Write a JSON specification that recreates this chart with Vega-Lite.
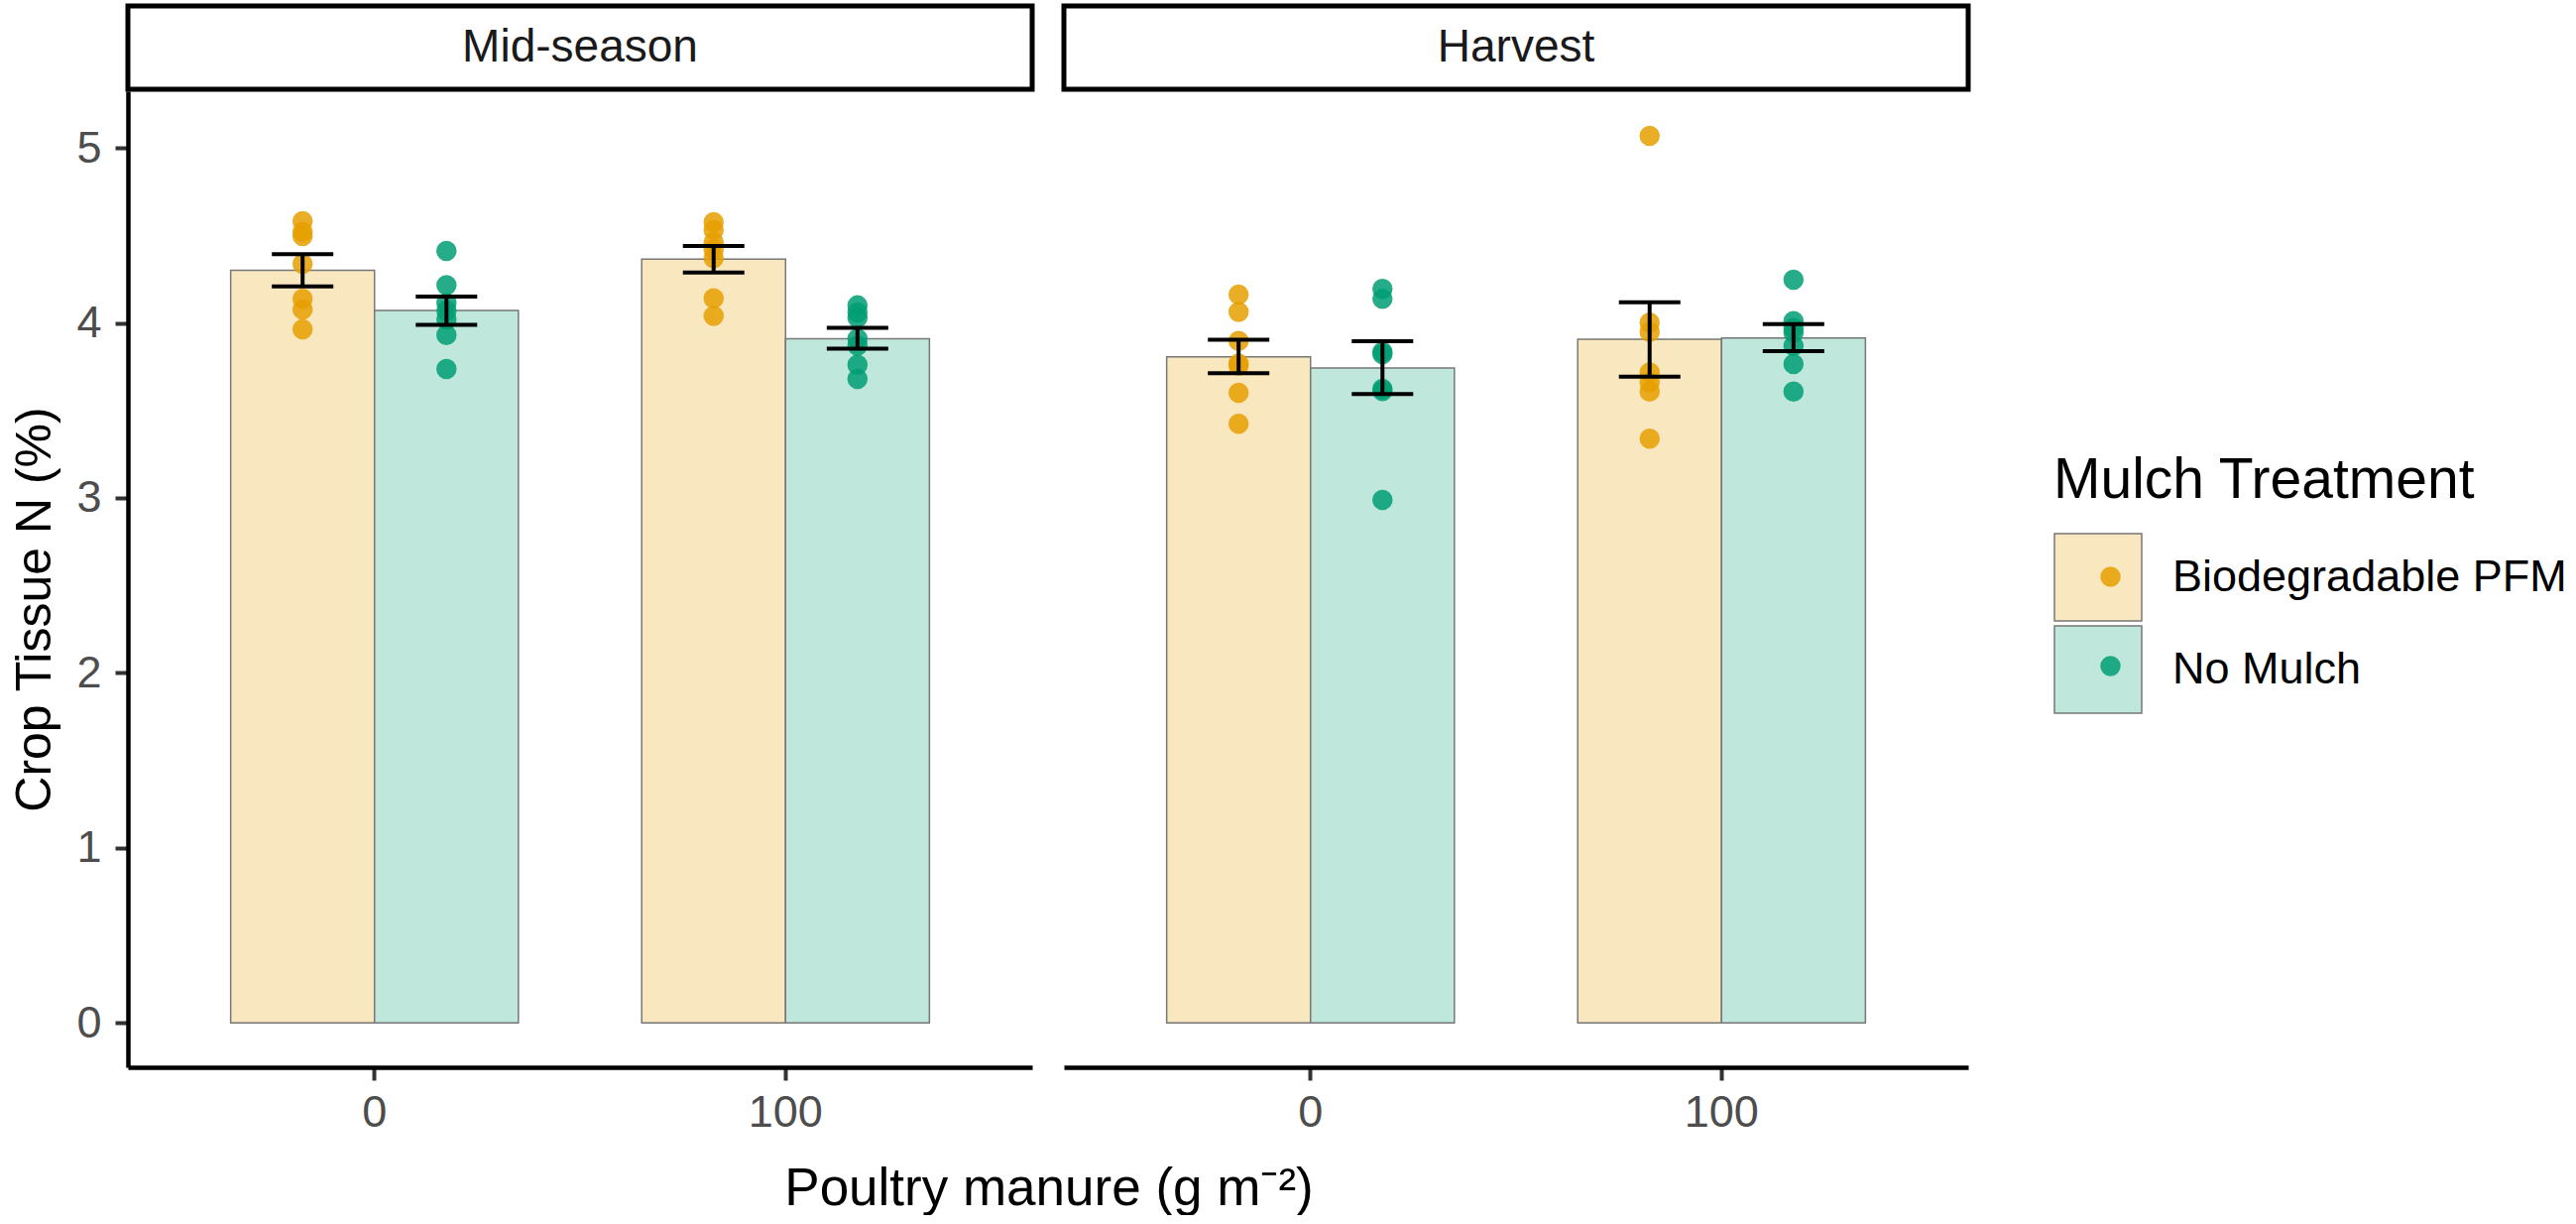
{
  "$schema": "https://vega.github.io/schema/vega-lite/v6.json",
  "background": "white",
  "padding": {"left": 10, "top": 3, "right": 0, "bottom": 0},
  "autosize": {"type": "pad"},
  "config": {
    "font": "Liberation Sans",
    "view": {"stroke": null},
    "axis": {
      "domainColor": "black", "domainWidth": 4.5,
      "tickColor": "#333333", "tickWidth": 4, "tickSize": 13,
      "labelColor": "#4D4D4D", "labelFontSize": 45, "labelFont": "Liberation Sans",
      "titleFont": "Liberation Sans", "titleFontSize": 50, "titleColor": "black", "titleFontWeight": "normal",
      "grid": false
    },
    "axisX": {"labelPadding": 10, "titlePadding": 28, "labelAngle": 0, "titleFontSize": 53},
    "axisY": {"labelPadding": 14, "titlePadding": 16},
    "legend": {"labelLimit": 0, "titleLimit": 0}
  },
  "datasets": {
    "strips": [{"period": "Mid-season"}, {"period": "Harvest"}],
    "summary": [
      {"period": "Mid-season", "manure": 0, "treatment": "Biodegradable PFM", "mean": 4.300, "lo": 4.209, "hi": 4.392},
      {"period": "Mid-season", "manure": 0, "treatment": "No Mulch", "mean": 4.071, "lo": 3.989, "hi": 4.150},
      {"period": "Mid-season", "manure": 100, "treatment": "Biodegradable PFM", "mean": 4.364, "lo": 4.288, "hi": 4.439},
      {"period": "Mid-season", "manure": 100, "treatment": "No Mulch", "mean": 3.910, "lo": 3.853, "hi": 3.972},
      {"period": "Harvest", "manure": 0, "treatment": "Biodegradable PFM", "mean": 3.806, "lo": 3.712, "hi": 3.904},
      {"period": "Harvest", "manure": 0, "treatment": "No Mulch", "mean": 3.742, "lo": 3.594, "hi": 3.895},
      {"period": "Harvest", "manure": 100, "treatment": "Biodegradable PFM", "mean": 3.906, "lo": 3.693, "hi": 4.118},
      {"period": "Harvest", "manure": 100, "treatment": "No Mulch", "mean": 3.914, "lo": 3.838, "hi": 3.993}
    ],
    "obs": [
      {"period": "Mid-season", "manure": 0, "mulch": "Biodegradable PFM", "n_pct": 4.581},
      {"period": "Mid-season", "manure": 0, "mulch": "Biodegradable PFM", "n_pct": 4.520},
      {"period": "Mid-season", "manure": 0, "mulch": "Biodegradable PFM", "n_pct": 4.496},
      {"period": "Mid-season", "manure": 0, "mulch": "Biodegradable PFM", "n_pct": 4.337},
      {"period": "Mid-season", "manure": 0, "mulch": "Biodegradable PFM", "n_pct": 4.137},
      {"period": "Mid-season", "manure": 0, "mulch": "Biodegradable PFM", "n_pct": 4.077},
      {"period": "Mid-season", "manure": 0, "mulch": "Biodegradable PFM", "n_pct": 3.963},
      {"period": "Mid-season", "manure": 0, "mulch": "No Mulch", "n_pct": 4.411},
      {"period": "Mid-season", "manure": 0, "mulch": "No Mulch", "n_pct": 4.216},
      {"period": "Mid-season", "manure": 0, "mulch": "No Mulch", "n_pct": 4.114},
      {"period": "Mid-season", "manure": 0, "mulch": "No Mulch", "n_pct": 4.070},
      {"period": "Mid-season", "manure": 0, "mulch": "No Mulch", "n_pct": 4.020},
      {"period": "Mid-season", "manure": 0, "mulch": "No Mulch", "n_pct": 3.931},
      {"period": "Mid-season", "manure": 0, "mulch": "No Mulch", "n_pct": 3.736},
      {"period": "Mid-season", "manure": 100, "mulch": "Biodegradable PFM", "n_pct": 4.575},
      {"period": "Mid-season", "manure": 100, "mulch": "Biodegradable PFM", "n_pct": 4.530},
      {"period": "Mid-season", "manure": 100, "mulch": "Biodegradable PFM", "n_pct": 4.460},
      {"period": "Mid-season", "manure": 100, "mulch": "Biodegradable PFM", "n_pct": 4.420},
      {"period": "Mid-season", "manure": 100, "mulch": "Biodegradable PFM", "n_pct": 4.370},
      {"period": "Mid-season", "manure": 100, "mulch": "Biodegradable PFM", "n_pct": 4.140},
      {"period": "Mid-season", "manure": 100, "mulch": "Biodegradable PFM", "n_pct": 4.040},
      {"period": "Mid-season", "manure": 100, "mulch": "No Mulch", "n_pct": 4.100},
      {"period": "Mid-season", "manure": 100, "mulch": "No Mulch", "n_pct": 4.060},
      {"period": "Mid-season", "manure": 100, "mulch": "No Mulch", "n_pct": 4.030},
      {"period": "Mid-season", "manure": 100, "mulch": "No Mulch", "n_pct": 3.910},
      {"period": "Mid-season", "manure": 100, "mulch": "No Mulch", "n_pct": 3.870},
      {"period": "Mid-season", "manure": 100, "mulch": "No Mulch", "n_pct": 3.760},
      {"period": "Mid-season", "manure": 100, "mulch": "No Mulch", "n_pct": 3.680},
      {"period": "Harvest", "manure": 0, "mulch": "Biodegradable PFM", "n_pct": 4.162},
      {"period": "Harvest", "manure": 0, "mulch": "Biodegradable PFM", "n_pct": 4.063},
      {"period": "Harvest", "manure": 0, "mulch": "Biodegradable PFM", "n_pct": 3.897},
      {"period": "Harvest", "manure": 0, "mulch": "Biodegradable PFM", "n_pct": 3.768},
      {"period": "Harvest", "manure": 0, "mulch": "Biodegradable PFM", "n_pct": 3.755},
      {"period": "Harvest", "manure": 0, "mulch": "Biodegradable PFM", "n_pct": 3.600},
      {"period": "Harvest", "manure": 0, "mulch": "Biodegradable PFM", "n_pct": 3.424},
      {"period": "Harvest", "manure": 0, "mulch": "No Mulch", "n_pct": 4.194},
      {"period": "Harvest", "manure": 0, "mulch": "No Mulch", "n_pct": 4.137},
      {"period": "Harvest", "manure": 0, "mulch": "No Mulch", "n_pct": 3.834},
      {"period": "Harvest", "manure": 0, "mulch": "No Mulch", "n_pct": 3.821},
      {"period": "Harvest", "manure": 0, "mulch": "No Mulch", "n_pct": 3.623},
      {"period": "Harvest", "manure": 0, "mulch": "No Mulch", "n_pct": 3.610},
      {"period": "Harvest", "manure": 0, "mulch": "No Mulch", "n_pct": 2.989},
      {"period": "Harvest", "manure": 100, "mulch": "Biodegradable PFM", "n_pct": 5.069},
      {"period": "Harvest", "manure": 100, "mulch": "Biodegradable PFM", "n_pct": 4.001},
      {"period": "Harvest", "manure": 100, "mulch": "Biodegradable PFM", "n_pct": 3.948},
      {"period": "Harvest", "manure": 100, "mulch": "Biodegradable PFM", "n_pct": 3.717},
      {"period": "Harvest", "manure": 100, "mulch": "Biodegradable PFM", "n_pct": 3.660},
      {"period": "Harvest", "manure": 100, "mulch": "Biodegradable PFM", "n_pct": 3.608},
      {"period": "Harvest", "manure": 100, "mulch": "Biodegradable PFM", "n_pct": 3.339},
      {"period": "Harvest", "manure": 100, "mulch": "No Mulch", "n_pct": 4.247},
      {"period": "Harvest", "manure": 100, "mulch": "No Mulch", "n_pct": 4.010},
      {"period": "Harvest", "manure": 100, "mulch": "No Mulch", "n_pct": 3.970},
      {"period": "Harvest", "manure": 100, "mulch": "No Mulch", "n_pct": 3.944},
      {"period": "Harvest", "manure": 100, "mulch": "No Mulch", "n_pct": 3.868},
      {"period": "Harvest", "manure": 100, "mulch": "No Mulch", "n_pct": 3.765},
      {"period": "Harvest", "manure": 100, "mulch": "No Mulch", "n_pct": 3.608}
    ]
  },
  "columns": 2,
  "spacing": {"row": 2, "column": 32},
  "bounds": "flush",
  "resolve": {"scale": {"fill": "shared", "color": "shared"}, "legend": {"fill": "shared", "color": "shared"}},
  "concat": [
    {
      "data": {"name": "strips"},
      "transform": [{"filter": "datum.period === 'Mid-season'"}],
      "width": 912, "height": 84,
      "view": {"stroke": "black", "strokeWidth": 5, "fill": "white"},
      "mark": {"type": "text", "fontSize": 46, "font": "Liberation Sans", "color": "#1A1A1A"},
      "encoding": {"text": {"field": "period", "type": "nominal"}}
    },
    {
      "data": {"name": "strips"},
      "transform": [{"filter": "datum.period === 'Harvest'"}],
      "width": 912, "height": 84,
      "view": {"stroke": "black", "strokeWidth": 5, "fill": "white"},
      "mark": {"type": "text", "fontSize": 46, "font": "Liberation Sans", "color": "#1A1A1A"},
      "encoding": {"text": {"field": "period", "type": "nominal"}}
    },
    {
      "width": 912, "height": 984,
      "layer": [
        {
          "data": {"name": "summary"},
          "transform": [{"filter": "datum.period === 'Mid-season'"}],
          "mark": {"type": "bar", "stroke": "#777777", "strokeWidth": 1.5},
          "encoding": {
            "x": {"field": "manure", "type": "ordinal", "title": "Poultry manure (g m⁻²)", "scale": {"domain": [0, 100], "paddingInner": 0.3, "paddingOuter": 0.25}, "axis": {"titleX": 928.5}},
            "xOffset": {"field": "treatment", "type": "nominal", "scale": {"domain": ["Biodegradable PFM", "No Mulch"], "paddingInner": 0, "paddingOuter": 0}},
            "y": {"field": "mean", "type": "quantitative", "title": "Crop Tissue N (%)", "scale": {"domain": [-0.2535, 5.3235], "nice": false, "zero": false}, "axis": {"values": [0, 1, 2, 3, 4, 5], "format": "d", "titleY": 522}},
            "y2": {"datum": 0},
            "fill": {"field": "treatment", "type": "nominal", "scale": {"domain": ["Biodegradable PFM", "No Mulch"], "range": ["#F9E7BF", "#BFE7DC"]},
              "legend": {"orient": "none", "legendX": 1942, "legendY": 451, "padding": 0, "title": "Mulch Treatment", "titleFontSize": 57, "titleColor": "black", "titleFontWeight": "normal", "titleFont": "Liberation Sans", "titlePadding": 23, "titleLimit": 0, "symbolType": "square", "symbolSize": 7744, "symbolStrokeColor": "#777777", "symbolStrokeWidth": 1.5, "symbolOpacity": 1, "rowPadding": -1, "labelFontSize": 45, "labelColor": "black", "labelFont": "Liberation Sans", "labelOffset": 30, "labelLimit": 0}}
          }
        },
        {
          "data": {"name": "obs"},
          "transform": [{"filter": "datum.period === 'Mid-season'"}],
          "mark": {"type": "circle", "size": 420, "opacity": 0.85},
          "encoding": {
            "x": {"field": "manure", "type": "ordinal", "title": "Poultry manure (g m⁻²)"},
            "xOffset": {"field": "mulch", "type": "nominal"},
            "y": {"field": "n_pct", "type": "quantitative", "title": "Crop Tissue N (%)"},
            "color": {"field": "mulch", "type": "nominal", "scale": {"range": ["#E69F00", "#009E73"]},
              "legend": {"orient": "none", "legendX": 1977, "legendY": 553, "padding": 0, "title": null, "symbolType": "circle", "symbolSize": 420, "symbolOpacity": 0.85, "rowPadding": 44, "labelFontSize": 45, "labelExpr": "''", "labelOpacity": 0}}
          }
        },
        {
          "data": {"name": "summary"},
          "transform": [{"filter": "datum.period === 'Mid-season'"}],
          "mark": {"type": "rule", "color": "black", "strokeWidth": 4},
          "encoding": {
            "x": {"field": "manure", "type": "ordinal", "title": "Poultry manure (g m⁻²)"},
            "xOffset": {"field": "treatment", "type": "nominal"},
            "y": {"field": "lo", "type": "quantitative", "title": "Crop Tissue N (%)"},
            "y2": {"field": "hi"}
          }
        },
        {
          "data": {"name": "summary"},
          "transform": [{"filter": "datum.period === 'Mid-season'"}],
          "mark": {"type": "tick", "color": "black", "thickness": 4, "size": 62, "opacity": 1},
          "encoding": {
            "x": {"field": "manure", "type": "ordinal", "title": "Poultry manure (g m⁻²)"},
            "xOffset": {"field": "treatment", "type": "nominal"},
            "y": {"field": "lo", "type": "quantitative", "title": "Crop Tissue N (%)"}
          }
        },
        {
          "data": {"name": "summary"},
          "transform": [{"filter": "datum.period === 'Mid-season'"}],
          "mark": {"type": "tick", "color": "black", "thickness": 4, "size": 62, "opacity": 1},
          "encoding": {
            "x": {"field": "manure", "type": "ordinal", "title": "Poultry manure (g m⁻²)"},
            "xOffset": {"field": "treatment", "type": "nominal"},
            "y": {"field": "hi", "type": "quantitative", "title": "Crop Tissue N (%)"}
          }
        }
      ]
    },
    {
      "width": 912, "height": 984,
      "layer": [
        {
          "data": {"name": "summary"},
          "transform": [{"filter": "datum.period === 'Harvest'"}],
          "mark": {"type": "bar", "stroke": "#777777", "strokeWidth": 1.5},
          "encoding": {
            "x": {"field": "manure", "type": "ordinal", "title": null, "scale": {"domain": [0, 100], "paddingInner": 0.3, "paddingOuter": 0.25}},
            "xOffset": {"field": "treatment", "type": "nominal", "scale": {"domain": ["Biodegradable PFM", "No Mulch"], "paddingInner": 0, "paddingOuter": 0}},
            "y": {"field": "mean", "type": "quantitative", "scale": {"domain": [-0.2535, 5.3235], "nice": false, "zero": false}, "axis": null},
            "y2": {"datum": 0},
            "fill": {"field": "treatment", "type": "nominal", "scale": {"domain": ["Biodegradable PFM", "No Mulch"], "range": ["#F9E7BF", "#BFE7DC"]}}
          }
        },
        {
          "data": {"name": "obs"},
          "transform": [{"filter": "datum.period === 'Harvest'"}],
          "mark": {"type": "circle", "size": 420, "opacity": 0.85},
          "encoding": {
            "x": {"field": "manure", "type": "ordinal", "title": null},
            "xOffset": {"field": "mulch", "type": "nominal"},
            "y": {"field": "n_pct", "type": "quantitative", "axis": null},
            "color": {"field": "mulch", "type": "nominal"}
          }
        },
        {
          "data": {"name": "summary"},
          "transform": [{"filter": "datum.period === 'Harvest'"}],
          "mark": {"type": "rule", "color": "black", "strokeWidth": 4},
          "encoding": {
            "x": {"field": "manure", "type": "ordinal", "title": null},
            "xOffset": {"field": "treatment", "type": "nominal"},
            "y": {"field": "lo", "type": "quantitative", "axis": null},
            "y2": {"field": "hi"}
          }
        },
        {
          "data": {"name": "summary"},
          "transform": [{"filter": "datum.period === 'Harvest'"}],
          "mark": {"type": "tick", "color": "black", "thickness": 4, "size": 62, "opacity": 1},
          "encoding": {
            "x": {"field": "manure", "type": "ordinal", "title": null},
            "xOffset": {"field": "treatment", "type": "nominal"},
            "y": {"field": "lo", "type": "quantitative", "axis": null}
          }
        },
        {
          "data": {"name": "summary"},
          "transform": [{"filter": "datum.period === 'Harvest'"}],
          "mark": {"type": "tick", "color": "black", "thickness": 4, "size": 62, "opacity": 1},
          "encoding": {
            "x": {"field": "manure", "type": "ordinal", "title": null},
            "xOffset": {"field": "treatment", "type": "nominal"},
            "y": {"field": "hi", "type": "quantitative", "axis": null}
          }
        }
      ]
    }
  ]
}
